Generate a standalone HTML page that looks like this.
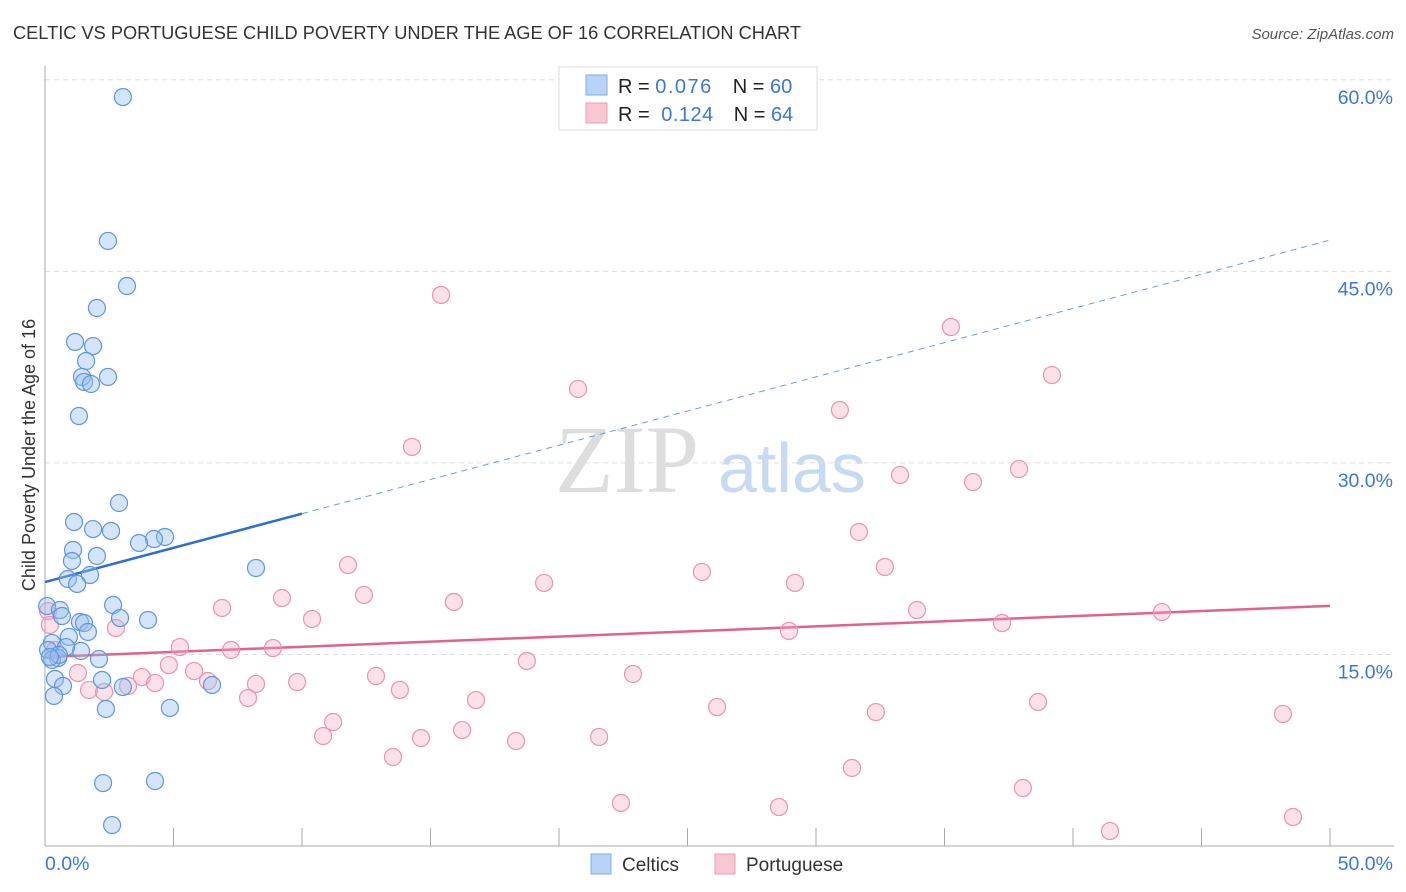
<!DOCTYPE html>
<html><head><meta charset="utf-8"><style>
body{margin:0;background:#fff;font-family:"Liberation Sans",sans-serif;}
svg{display:block}
</style></head><body>
<svg id="chart" width="1406" height="892">
<text x="13" y="39" font-size="18" fill="#333" textLength="788" lengthAdjust="spacingAndGlyphs">CELTIC VS PORTUGUESE CHILD POVERTY UNDER THE AGE OF 16 CORRELATION CHART</text>
<text x="1394" y="39" font-size="15" fill="#555" font-style="italic" text-anchor="end">Source: ZipAtlas.com</text>
<text x="35" y="455" font-size="18" fill="#333" text-anchor="middle" transform="rotate(-90 35 455)">Child Poverty Under the Age of 16</text>
<g>
<text x="555" y="492" font-size="96" font-family="Liberation Serif,serif" fill="#ddd">ZIP</text>
<text x="718" y="492" font-size="70" fill="#c8daf2">atlas</text>
</g>
<g id="grid"></g><g id="axes"></g><g id="trend"></g><g id="pts"></g>
<g>
<rect x="559" y="67" width="258" height="63" fill="#fff" stroke="#ddd"/>
<rect x="586" y="75" width="21" height="20" fill="#b8d3f5" stroke="#7fabe5"/>
<rect x="586" y="103" width="21" height="20" fill="#f9c6d4" stroke="#ec9bb3"/>
<text x="618" y="93" font-size="20" fill="#222">R = <tspan fill="#3a78d8" textLength="56">0.076</tspan><tspan dx="20">N = </tspan><tspan fill="#3a78d8">60</tspan></text>
<text x="618" y="121" font-size="20" fill="#222">R = <tspan dx="6" fill="#3a78d8" textLength="52">0.124</tspan><tspan dx="20">N = </tspan><tspan fill="#3a78d8">64</tspan></text>
</g>
<g>
<rect x="591" y="854" width="20" height="20" fill="#b8d3f5" stroke="#7fabe5"/>
<text x="622" y="871" font-size="19" fill="#333">Celtics</text>
<rect x="715" y="854" width="20" height="20" fill="#f9c6d4" stroke="#ec9bb3"/>
<text x="746" y="871" font-size="19" fill="#333">Portuguese</text>
</g>
</svg>
<script>
const blueX=[3.03,2.45,3.19,2.02,1.17,1.87,1.60,1.44,2.45,1.52,1.79,1.32,2.88,1.13,1.87,2.57,4.67,4.24,3.66,1.09,2.02,1.05,1.75,0.89,1.25,8.21,2.65,0.08,0.58,0.66,2.92,4.01,1.36,1.52,1.67,0.93,0.27,0.12,1.40,0.82,0.51,2.10,0.27,0.54,0.39,2.22,0.70,3.03,6.50,0.35,2.37,4.86,2.26,4.28,2.61,0.19];
const blueY=[58.65,47.38,43.85,42.13,39.47,39.15,37.98,36.73,36.73,36.34,36.18,33.67,26.86,25.37,24.82,24.67,24.20,24.04,23.73,23.18,22.71,22.32,21.22,20.91,20.52,21.77,18.87,18.79,18.48,18.01,17.85,17.70,17.54,17.46,16.76,16.37,15.90,15.35,15.27,15.58,14.72,14.64,14.57,14.96,13.08,13.00,12.53,12.45,12.61,11.75,10.73,10.81,4.93,5.09,1.64,14.80];
const pinkX=[15.41,35.25,39.18,20.74,30.93,14.28,33.27,36.11,37.90,31.67,11.79,32.68,25.56,19.42,29.18,9.22,12.41,15.91,6.89,33.93,43.46,10.39,37.24,2.76,28.95,5.25,7.24,8.87,0.39,5.80,4.82,18.75,22.88,12.88,3.77,9.81,4.28,6.34,8.21,1.28,3.23,1.71,2.30,13.81,16.77,7.90,26.15,32.33,38.64,48.17,11.21,10.82,16.23,14.63,18.33,21.56,13.54,31.40,38.05,22.41,28.56,41.44,48.56,0.12,0.19];
const pinkY=[43.15,40.64,36.88,35.79,34.14,31.25,29.05,28.50,29.52,24.59,22.00,21.85,21.46,20.60,20.60,19.42,19.66,19.11,18.64,18.48,18.32,17.78,17.46,17.07,16.84,15.58,15.35,15.50,15.35,13.70,14.17,14.49,13.47,13.31,13.23,12.84,12.76,12.92,12.69,13.55,12.53,12.22,12.06,12.22,11.43,11.59,10.88,10.49,11.28,10.34,9.71,8.61,9.08,8.46,8.22,8.54,6.97,6.11,4.54,3.37,3.05,1.17,2.27,18.40,17.31];
const blueTrend=[20.67,47.45];
const blueSolidEnd=10;
const pinkTrend=[14.8,18.8];
const yTicks=[15,30,45,60];
const xTickLabels=["0.0%","50.0%"];

const NS="http://www.w3.org/2000/svg";
const sx=v=>45+v*25.7, sy=v=>846-v*12.77;
function mk(tag,attrs,parent){const e=document.createElementNS(NS,tag);for(const k in attrs)e.setAttribute(k,attrs[k]);document.getElementById(parent).appendChild(e);return e;}
yTicks.forEach(t=>{
 const l=mk('line',{x1:45,x2:1394,y1:sy(t),y2:sy(t),stroke:'#ddd','stroke-dasharray':'5,4'},'grid');
 
 
 const tx=mk('text',{x:1393,y:sy(t)+24,'font-size':19.5,fill:'#3a78d8','text-anchor':'end'},'grid');
 tx.textContent=t.toFixed(1)+'%';
 
 
});
const ax=mk('line',{x1:45,x2:45,y1:66,y2:846,stroke:'#aaa'},'axes');


const bx=mk('line',{x1:45,x2:1394,y1:846,y2:846,stroke:'#aaa'},'axes');


for(let i=0;i<=10;i++){const t=mk('line',{x1:sx(i*5),x2:sx(i*5),y1:828,y2:846,stroke:'#aaa'},'axes');
 
 }
const xl0=mk('text',{x:45,y:870,'font-size':19.5,fill:'#3a78d8'},'axes');xl0.textContent=xTickLabels[0];


const xl1=mk('text',{x:1393,y:870,'font-size':19.5,fill:'#3a78d8','text-anchor':'end'},'axes');xl1.textContent=xTickLabels[1];


const by=x=>blueTrend[0]+(blueTrend[1]-blueTrend[0])*x/50;
const t1=mk('line',{x1:sx(0),y1:sy(by(0)),x2:sx(blueSolidEnd),y2:sy(by(blueSolidEnd)),stroke:'#2a6fd6','stroke-width':2.5},'trend');


const t2=mk('line',{x1:sx(blueSolidEnd),y1:sy(by(blueSolidEnd)),x2:sx(50),y2:sy(by(50)),stroke:'#6a9de0','stroke-width':1,'stroke-dasharray':'6,5'},'trend');


const t3=mk('line',{x1:sx(0),y1:sy(pinkTrend[0]),x2:sx(50),y2:sy(pinkTrend[1]),stroke:'#e2628a','stroke-width':2.5},'trend');


pinkX.forEach((x,i)=>{const c=mk('circle',{cx:sx(x),cy:sy(pinkY[i]),r:8.5,fill:'rgba(246,170,192,0.35)',stroke:'#ea93ad','stroke-width':1.2},'pts');
 
 });
blueX.forEach((x,i)=>{const c=mk('circle',{cx:sx(x),cy:sy(blueY[i]),r:8.5,fill:'rgba(150,190,240,0.4)',stroke:'#5f95e0','stroke-width':1.2},'pts');
 
 });
</script>
</body></html>
